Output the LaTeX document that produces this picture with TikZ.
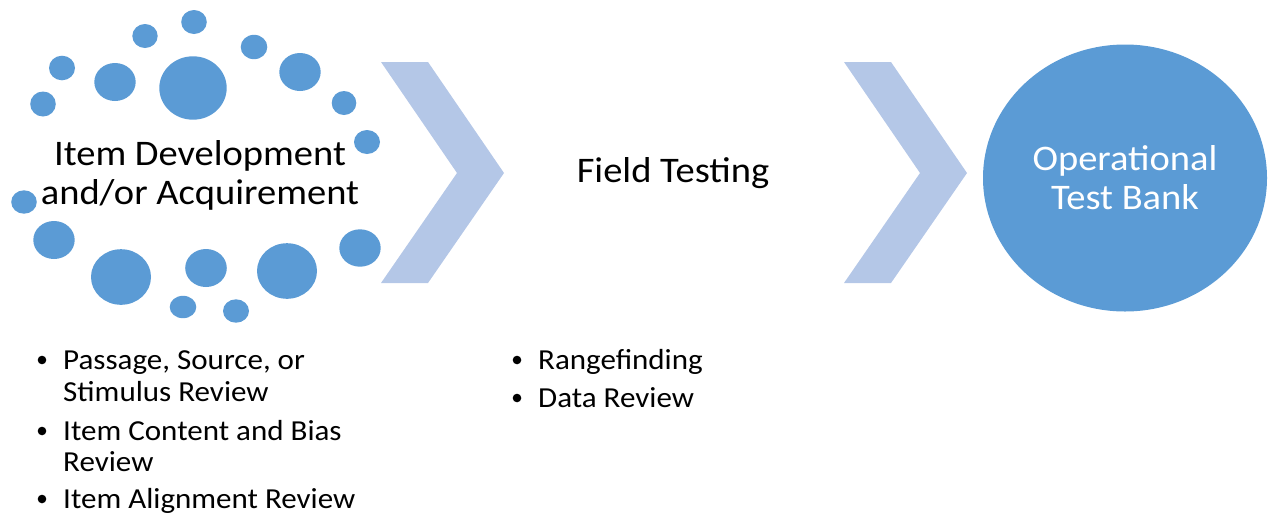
\documentclass[tikz,border=0pt]{standalone}
\usepackage{fontspec}
\setmainfont{Carlito}[FakeStretch=1.07]
\usetikzlibrary{shapes.geometric}
\definecolor{dotblue}{HTML}{5B9BD5}
\definecolor{chev}{HTML}{B4C7E7}
\begin{document}
\begin{tikzpicture}[x=1pt,y=-1pt,
  dot/.style={fill=dotblue},
  chevron/.style={fill=chev},
  bigtext/.style={font=\fontsize{36}{39}\selectfont, align=center, inner sep=0pt},
  itemtext/.style={font=\fontsize{29}{32}\selectfont, anchor=base west, inner sep=0pt},
  bulletdot/.style={fill=black}]
\useasboundingbox (0,0) rectangle (1268,515);
% dot cluster
\fill[dot] (194,22) ellipse (12.8 and 12);
\fill[dot] (145,36) ellipse (12.7 and 12);
\fill[dot] (254,47) ellipse (13.3 and 12.2);
\fill[dot] (62,68) ellipse (13 and 12.3);
\fill[dot] (115,82) ellipse (20.7 and 19);
\fill[dot] (193,88) ellipse (33.7 and 31.7);
\fill[dot] (300,72) ellipse (20.7 and 19);
\fill[dot] (43,104) ellipse (12.8 and 12.5);
\fill[dot] (344,103) ellipse (12.3 and 12);
\fill[dot] (367,142) ellipse (13 and 12);
\fill[dot] (24,202) ellipse (12.8 and 11.7);
\fill[dot] (54,240) ellipse (20.7 and 19);
\fill[dot] (121,277) ellipse (30 and 27.8);
\fill[dot] (206,268) ellipse (20.8 and 19);
\fill[dot] (287,271) ellipse (30 and 27.8);
\fill[dot] (360,248) ellipse (20.7 and 18.7);
\fill[dot] (183,307) ellipse (13.3 and 11.2);
\fill[dot] (236,311) ellipse (13 and 11.7);
% chevrons
\fill[chevron] (381,62) -- (428,62) -- (504,173) -- (428,283) -- (381,283) -- (457,173) -- cycle;
\fill[chevron] (844,62) -- (891,62) -- (967,173) -- (891,283) -- (844,283) -- (920,173) -- cycle;
% main labels
\node[bigtext] (idev) at (200,175) {Item Development\\and/or Acquirement};
\node[bigtext] (field) at (673,173) {Field Testing};
\node[ellipse,minimum width=284pt,minimum height=267pt,fill=dotblue,inner sep=0pt] (otb) at (1125,178) {};
\node[bigtext,text=white] (otbtext) at (otb.center) {Operational\\Test Bank};
% left list
\fill[bulletdot] (42,360) circle (4.3);
\fill[bulletdot] (42,431) circle (4.3);
\fill[bulletdot] (42,499) circle (4.3);
\node[itemtext] (l1) at (63,369) {Passage, Source, or};
\node[itemtext] (l2) at (63,401) {Stimulus Review};
\node[itemtext] (l3) at (63,440) {Item Content and Bias};
\node[itemtext] (l4) at (63,471) {Review};
\node[itemtext] (l5) at (63,508) {Item Alignment Review};
% right list
\fill[bulletdot] (517,360) circle (4.3);
\fill[bulletdot] (517,398) circle (4.3);
\node[itemtext] (r1) at (538,369) {Rangefinding};
\node[itemtext] (r2) at (538,407) {Data Review};
\end{tikzpicture}
\end{document}
